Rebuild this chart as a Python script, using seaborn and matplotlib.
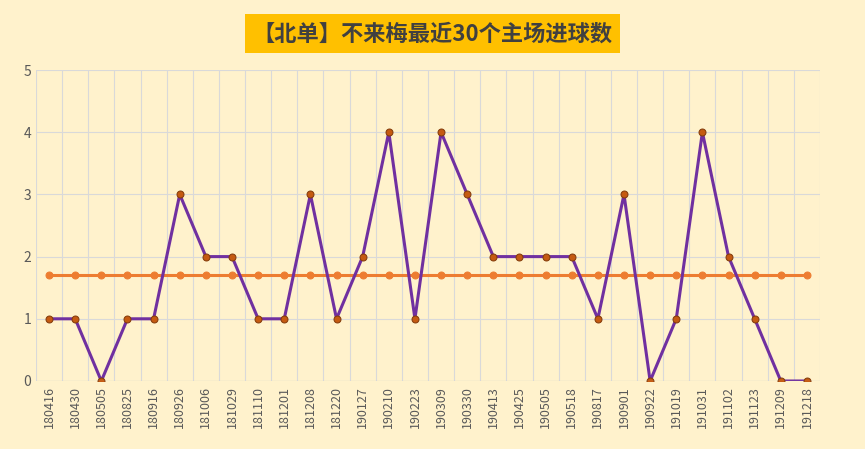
import matplotlib
matplotlib.use("Agg")
import numpy as np
import pandas as pd
import seaborn as sns
import matplotlib.pyplot as plt

dates = ["180416", "180430", "180505", "180825", "180916", "180926", "181006", "181029",
         "181110", "181201", "181208", "181220", "190127", "190210", "190223", "190309",
         "190330", "190413", "190425", "190505", "190518", "190817", "190901", "190922",
         "191019", "191031", "191102", "191123", "191209", "191218"]
goals = [1, 1, 0, 1, 1, 3, 2, 2, 1, 1, 3, 1, 2, 4, 1, 4, 3, 2, 2, 2, 2, 1, 3, 0, 1, 4, 2, 1, 0, 0]

df = pd.DataFrame({"date": dates, "goals": goals})
df["x"] = np.arange(len(df))
df["avg"] = df["goals"].mean()

sns.set_style("white")
plt.rcParams['font.family'] = ['Noto Sans CJK SC', 'DejaVu Sans']
bg = "#FFF2CC"

fig = plt.figure(figsize=(8.65, 4.49), dpi=100, facecolor=bg)
ax = fig.add_axes([36/865, 68/449, 784/865, 311/449])
ax.set_facecolor(bg)

sns.lineplot(data=df, x="x", y="avg", ax=ax, color="#ED7D31", linewidth=2.2,
             marker="o", markersize=5, markerfacecolor="#ED7D31", markeredgecolor="#ED7D31")
sns.lineplot(data=df, x="x", y="goals", ax=ax, color="#7030A0", linewidth=2.2,
             marker="o", markersize=5, markerfacecolor="#C55A11", markeredgecolor="#843C0C")

ax.set_xlim(-0.5, len(df) - 0.5)
ax.set_ylim(0, 5)
ax.set_yticks(range(6))
ax.set_xticks(df["x"])
ax.set_xticklabels(df["date"], rotation=90, fontsize=9, color="#595959")
for t in ax.get_yticklabels():
    t.set_fontsize(10)
    t.set_color("#595959")
ax.set_xticks(np.arange(-0.5, len(df), 1), minor=True)
ax.grid(True, which="minor", axis="x", color="#D9D9D9", linewidth=0.8)
ax.grid(True, which="major", axis="y", color="#D9D9D9", linewidth=0.8)
ax.tick_params(length=0, which="both")
ax.set_xlabel("")
ax.set_ylabel("")
for s in ax.spines.values():
    s.set_visible(False)
ax.axhline(0, color="#BFBFBF", linewidth=0.8)

fig.text(0.5, 0.925, "【北单】不来梅最近30个主场进球数", ha="center", va="center",
         fontsize=16, fontweight="bold", color="#404040",
         bbox=dict(boxstyle="square,pad=0.35", facecolor="#FFC000", edgecolor="none"))

fig.savefig("out.png", dpi=100, facecolor=bg)
